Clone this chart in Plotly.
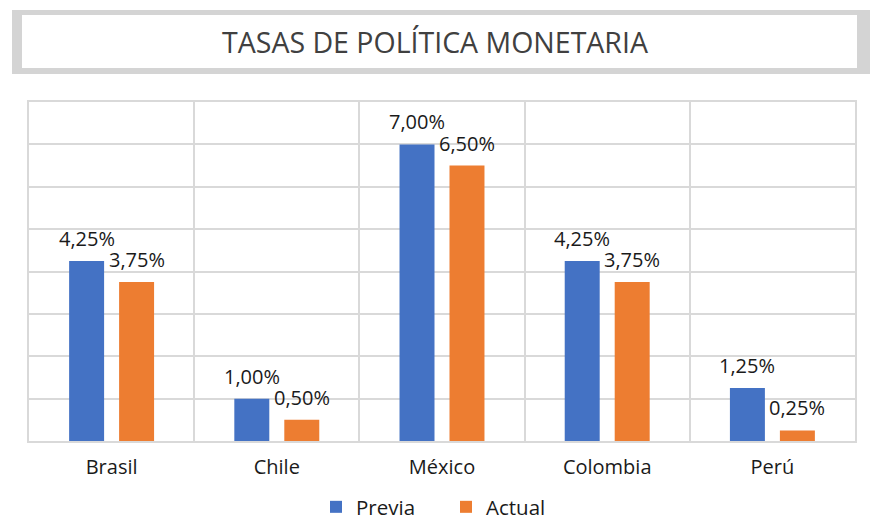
import plotly.graph_objects as go

categories = ["Brasil", "Chile", "México", "Colombia", "Perú"]
previa = [4.25, 1.00, 7.00, 4.25, 1.25]
actual = [3.75, 0.50, 6.50, 3.75, 0.25]
series_names = ["Previa", "Actual"]
title_text = "TASAS DE POLÍTICA MONETARIA"

W, H = 877, 521
L, R, T, B = 29, 22, 102, 80
FONT = "Open Sans"
BARGAP = 0.395
GROUPGAP = 0.3


def fmt(v):
    return f"{v:.2f}".replace(".", ",") + "%"


pw = W - L - R
ph = H - T - B

fig = go.Figure()
colors = ["#4472C4", "#ED7D31"]
all_vals = [previa, actual]
for name, vals, color in zip(series_names, all_vals, colors):
    fig.add_trace(go.Bar(
        x=categories, y=vals, name=name,
        marker=dict(color=color, line=dict(width=0)),
    ))

# data labels above bars (group offset derived from bar layout)
cat_w = pw / len(categories)
slot = cat_w * (1 - BARGAP) / len(all_vals)
annotations = []
for si, vals in enumerate(all_vals):
    shift = (si - (len(all_vals) - 1) / 2) * slot
    for c, v in zip(categories, vals):
        annotations.append(dict(
            x=c, y=v, xref="x", yref="y", text=fmt(v), showarrow=False,
            xanchor="center", yanchor="bottom", xshift=shift, yshift=7,
            font=dict(family=FONT, size=20, color="#1a1a1a"),
        ))


def px2x(px):
    return (px - L) / pw


def py2y(py):
    return (H - B - py) / ph


shapes = [
    dict(type="rect", xref="paper", yref="paper",
         x0=px2x(12), x1=px2x(870), y0=py2y(74), y1=py2y(10),
         fillcolor="#d4d4d4", line=dict(width=0), layer="below"),
    dict(type="rect", xref="paper", yref="paper",
         x0=px2x(22), x1=px2x(857), y0=py2y(68), y1=py2y(15),
         fillcolor="white", line=dict(width=0), layer="below"),
]

fig.update_layout(
    width=W, height=H,
    margin=dict(l=L, r=R, t=T, b=B, autoexpand=False),
    paper_bgcolor="white", plot_bgcolor="white",
    barmode="group", bargap=BARGAP, bargroupgap=GROUPGAP,
    title=dict(text=title_text, x=435 / W, xref="container", xanchor="center",
               y=1 - 43 / H, yref="container", yanchor="middle",
               font=dict(family=FONT, size=28.5, color="#404040")),
    font=dict(family=FONT, color="#1a1a1a"),
    xaxis=dict(type="category", tickson="boundaries", showgrid=True,
               gridcolor="#d9d9d9", gridwidth=1.5, ticks="", ticklen=0,
               showline=True, linecolor="#d9d9d9", linewidth=1.5, mirror=True,
               tickfont=dict(family=FONT, size=20, color="#1a1a1a"),
               ticklabelstandoff=7),
    yaxis=dict(range=[0, 8], dtick=1, showticklabels=False, showgrid=True,
               gridcolor="#d9d9d9", gridwidth=1.5, zeroline=False,
               showline=True, linecolor="#d9d9d9", linewidth=1.5, mirror=True),
    legend=dict(orientation="h", x=px2x(446), xanchor="center", y=py2y(487), yanchor="top",
                font=dict(family=FONT, size=20.5, color="#1a1a1a"),
                itemwidth=30, entrywidth=85),
    shapes=shapes,
    annotations=annotations,
    showlegend=True,
)

fig.write_html("out.html", config={"displayModeBar": False},
               post_script="document.body.style.margin='0';")
